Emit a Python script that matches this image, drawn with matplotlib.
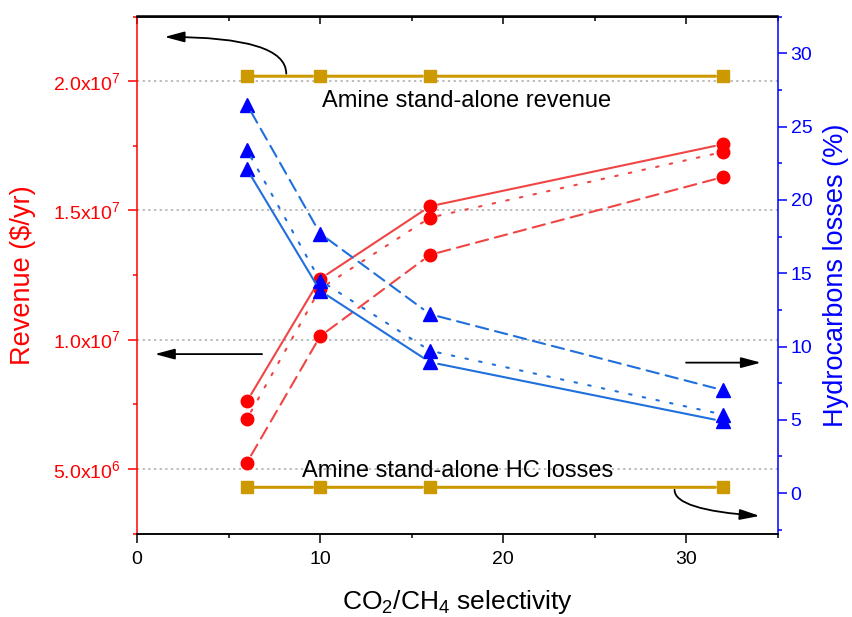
import matplotlib
matplotlib.use('Agg')
import matplotlib.pyplot as plt
from matplotlib.ticker import MultipleLocator, FuncFormatter

plt.rcParams['font.family'] = ['Liberation Sans', 'DejaVu Sans']
plt.rcParams['mathtext.fontset'] = 'custom'
plt.rcParams['mathtext.rm'] = 'Liberation Sans'
plt.rcParams['mathtext.it'] = 'Liberation Sans:italic'

selectivity = [6, 10, 16, 32]

# revenue ($/yr), left axis
rev_solid = [7.61e6, 1.235e7, 1.516e7, 1.756e7]
rev_dot = [6.93e6, 1.197e7, 1.472e7, 1.726e7]
rev_dash = [5.24e6, 1.013e7, 1.328e7, 1.629e7]
amine_rev = [2.019e7, 2.019e7, 2.019e7, 2.019e7]

# hydrocarbon losses (%), right axis
hc_solid = [22.1, 13.8, 8.93, 4.9]
hc_dot = [23.4, 14.5, 9.71, 5.36]
hc_dash = [26.5, 17.7, 12.2, 7.02]
amine_hc = [0.4, 0.4, 0.4, 0.4]

RED_M, RED_L = '#ff0000', '#f04545'
BLUE_M, BLUE_L = '#0000ff', '#1f6fdc'
GOLD = '#cc9900'
DASH = (0, (6, 3.4))
DOT = (0, (1.2, 5.5))


def gap_line(axis, xs, ys, color, ls, lw=1.5, gap=6):
    # segments stop short of the markers
    for i in range(len(xs) - 1):
        axis.annotate('', xy=(xs[i + 1], ys[i + 1]), xytext=(xs[i], ys[i]),
                      arrowprops=dict(arrowstyle='-', color=color, lw=lw, ls=ls,
                                      shrinkA=gap, shrinkB=gap))


def sci_fmt(v, pos):
    if v <= 0:
        return ''
    e = 0
    m = v
    while m >= 10:
        m /= 10
        e += 1
    return f'{m:.1f}x10$^{e}$'


fig = plt.figure(figsize=(8.52, 6.17), dpi=100)
ax = fig.add_axes([137 / 852, 83.5 / 617, 641 / 852, 517 / 617])
ax2 = ax.twinx()

ax.set_xlim(0, 35)
ax.set_ylim(2.5e6, 2.25e7)
ax2.set_ylim(-2.75, 32.5)

ax.grid(axis='y', ls=(0, (1.5, 2.2)), color='#aaaaaa', lw=1.1)
ax.set_axisbelow(True)

# revenue curves
for ys, ls in [(rev_solid, '-'), (rev_dot, DOT), (rev_dash, DASH)]:
    gap_line(ax, selectivity, ys, RED_L, ls)
    ax.plot(selectivity, ys, ls='none', marker='o', ms=9, color=RED_M)

gap_line(ax, selectivity, amine_rev, GOLD, '-', lw=2.2, gap=5.5)
ax.plot(selectivity, amine_rev, ls='none', marker='s', ms=8, color=GOLD)

# hydrocarbon losses curves
for ys, ls in [(hc_solid, '-'), (hc_dot, DOT), (hc_dash, DASH)]:
    gap_line(ax2, selectivity, ys, BLUE_L, ls)
    ax2.plot(selectivity, ys, ls='none', marker='^', ms=9.5, color=BLUE_M)

gap_line(ax2, selectivity, amine_hc, GOLD, '-', lw=2.2, gap=5.5)
ax2.plot(selectivity, amine_hc, ls='none', marker='s', ms=8, color=GOLD)

ax.text(18.0, 1.898e7, 'Amine stand-alone revenue', fontsize=17,
        ha='center', va='baseline')
ax.text(17.5, 4.70e6, 'Amine stand-alone HC losses', fontsize=17,
        ha='center', va='baseline')

# arrows pointing to the axis of each group
head = '-|>,head_length=0.6,head_width=0.16'
ax.annotate('', xy=(1.5, 2.171e7), xytext=(8.15, 2.029e7),
            arrowprops=dict(arrowstyle=head, color='k', lw=1.3, mutation_scale=20,
                            shrinkA=0, shrinkB=0,
                            connectionstyle='angle3,angleA=90,angleB=0'))
ax.annotate('', xy=(0.97, 9.44e6), xytext=(6.83, 9.44e6),
            arrowprops=dict(arrowstyle=head, color='k', lw=1.3, mutation_scale=20,
                            shrinkA=0, shrinkB=0))
ax.annotate('', xy=(34.07, 9.11e6), xytext=(29.98, 9.11e6),
            arrowprops=dict(arrowstyle=head, color='k', lw=1.3, mutation_scale=20,
                            shrinkA=0, shrinkB=0))
ax.annotate('', xy=(34.0, 3.18e6), xytext=(29.35, 4.19e6),
            arrowprops=dict(arrowstyle=head, color='k', lw=1.3, mutation_scale=20,
                            shrinkA=0, shrinkB=0,
                            connectionstyle='angle3,angleA=-90,angleB=-4'))

# axes styling
ax.xaxis.set_major_locator(MultipleLocator(10))
ax.xaxis.set_minor_locator(MultipleLocator(5))
ax.yaxis.set_major_locator(MultipleLocator(5e6))
ax.yaxis.set_minor_locator(MultipleLocator(2.5e6))
ax.yaxis.set_major_formatter(FuncFormatter(sci_fmt))
ax2.yaxis.set_major_locator(MultipleLocator(5))
ax2.yaxis.set_minor_locator(MultipleLocator(2.5))

ax.tick_params(axis='both', which='major', direction='out', length=6.5, width=1.1)
ax.tick_params(axis='both', which='minor', direction='out', length=3.2, width=1.1)
ax.tick_params(axis='x', labelsize=14, pad=6)
ax.tick_params(axis='y', which='both', colors='red', labelsize=14, pad=5.5)
ax2.tick_params(axis='y', which='major', direction='out', length=6.5, width=1.1,
                colors='blue', labelsize=14, pad=2.5)
ax2.tick_params(axis='y', which='minor', direction='out', length=3.2, width=1.1,
                colors='blue')

top = ax.secondary_xaxis('top')
top.xaxis.set_major_locator(MultipleLocator(10))
top.xaxis.set_minor_locator(MultipleLocator(5))
top.tick_params(which='major', direction='in', length=5.5, width=1.1, labeltop=False)
top.tick_params(which='minor', direction='in', length=3.5, width=1.1)
top.spines['top'].set_linewidth(1.1)

for s in ax.spines.values():
    s.set_linewidth(1.1)
for s in ax2.spines.values():
    s.set_linewidth(1.1)
ax.spines['left'].set_color('red')
ax.spines['right'].set_visible(False)
ax2.spines['left'].set_visible(False)
ax2.spines['right'].set_color('blue')

ax.set_xlabel('CO$_2$/CH$_4$ selectivity', fontsize=19)
ax.set_ylabel('Revenue ($/yr)', fontsize=19.5, color='red')
ax2.set_ylabel('Hydrocarbons losses (%)', fontsize=19.5, color='blue')
ax.xaxis.set_label_coords(0.5, -0.1055)
ax.yaxis.set_label_coords(-0.157, 0.5)
ax2.yaxis.set_label_coords(1.070, 0.5)

fig.savefig('out.png', dpi=100)
